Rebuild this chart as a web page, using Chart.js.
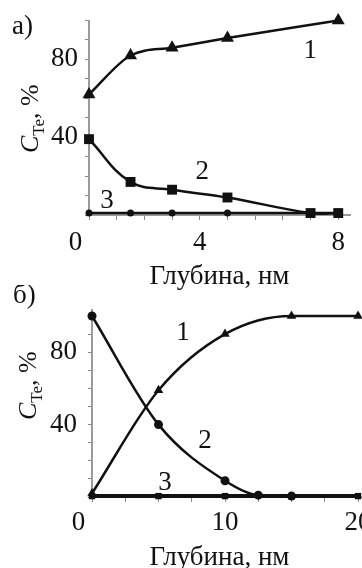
<!DOCTYPE html>
<html><head><meta charset="utf-8">
<script src="https://cdn.jsdelivr.net/npm/chart.js@4.4.1/dist/chart.umd.min.js"></script>
<style>
html,body{margin:0;padding:0;width:362px;height:568px;overflow:hidden;background:#fff;}
#wa{position:absolute;left:0;top:0;width:362px;height:290px;}
#wb{position:absolute;left:0;top:285px;width:380px;height:290px;}
canvas{display:block;}
</style></head><body>
<div id="wa"><canvas id="ca" width="362" height="290"></canvas></div>
<div id="wb"><canvas id="cb" width="380" height="290"></canvas></div>
<script>
// ---------- Panel а) ----------
const depthA   = [0.8, 2, 3.2, 4.8, 8];
const curve1A  = [62, 82, 86, 91, 100];
const depth2A  = [0.8, 2, 3.2, 4.8, 7.2, 8];
const curve2A  = [39, 17, 13, 9, 1, 1];
const curve3A  = [1, 1, 1, 1, 1];
const xTicksA  = [0.8, 1.6, 2.4, 3.2, 4, 4.8, 5.6, 6.4, 7.2, 8];
const xTickLabelsA = ['0', '', '', '', '4', '', '', '', '', '8'];

// ---------- Panel б) ----------
const depthB   = [0, 5, 10, 15, 20];
const curve1B  = [2, 59, 90, 100, 100];
const depth2B  = [0, 5, 10, 12.5, 15];
const curve2B  = [100, 40, 9, 1, 0.5];
const curve3B  = [0.5, 0.5, 0.5, 0.5, 0.5];
const xTicksB  = [0, 2.5, 5, 7.5, 10, 12.5, 15, 17.5, 20];
const xTickLabelsB = ['0', '', '', '', '10', '', '', '', '20'];

// shared y ticks
const yTicks = [0, 10, 20, 30, 40, 50, 60, 70, 80, 90, 100];
const yTickLabels = ['', '', '', '', '40', '', '', '', '80', '', ''];

const curveNames = ['1', '2', '3'];
const xTitle = 'Глубина, нм';

const FONT = '"Liberation Serif", "Times New Roman", serif';
const INK = '#111';

function ds(xs, ys, style, radius, width, mode) {
  return {
    data: xs.map((x, i) => ({x: x, y: ys[i]})),
    showLine: true, borderColor: INK, backgroundColor: INK, borderWidth: width,
    pointStyle: style, pointRadius: radius, pointHoverRadius: radius,
    pointBackgroundColor: INK, pointBorderColor: INK, pointBorderWidth: 0,
    cubicInterpolationMode: mode, tension: 0.4, clip: false
  };
}

const textPlugin = {
  id: 'txt',
  afterDraw(chart, args, o) {
    const ctx = chart.ctx, xs = chart.scales.x, ys = chart.scales.y;
    ctx.save();
    ctx.fillStyle = INK;
    ctx.font = '27px ' + FONT;
    ctx.textAlign = 'center'; ctx.textBaseline = 'middle';
    curveNames.forEach((t, i) => ctx.fillText(t, xs.getPixelForValue(o.lx[i]), ys.getPixelForValue(o.ly[i])));
    ctx.textAlign = 'left'; ctx.textBaseline = 'alphabetic';
    ctx.fillText(o.panel, o.px, o.py);
    ctx.translate(o.tx, o.ty); ctx.rotate(-Math.PI / 2);
    ctx.font = 'italic 26px ' + FONT; ctx.fillText('C', 0, 0);
    let w = ctx.measureText('C').width;
    ctx.font = '17px ' + FONT; ctx.fillText('Te', w, 6);
    w += ctx.measureText('Te').width;
    ctx.font = '26px ' + FONT; ctx.fillText(', %', w, 0);
    ctx.restore();
  }
};

function makeChart(id, cfg) {
  return new Chart(document.getElementById(id), {
    type: 'scatter',
    data: {datasets: cfg.datasets},
    options: {
      responsive: false, animation: false, devicePixelRatio: 1,
      layout: {padding: cfg.padding},
      plugins: {legend: {display: false}, tooltip: {enabled: false}, txt: cfg.txt},
      scales: {
        x: {
          type: 'linear', min: cfg.xmin, max: cfg.xmax,
          afterBuildTicks: s => { s.ticks = cfg.xTicks.map(v => ({value: v})); },
          afterFit: s => { s.height = cfg.xh; },
          ticks: {autoSkip: false, maxRotation: 0, padding: cfg.xpad, color: INK,
                  font: {family: FONT, size: 27, lineHeight: 1},
                  callback: (v, i) => cfg.xLabels[i] === '0' ? '0    ' : cfg.xLabels[i]},
          grid: {drawOnChartArea: false, drawTicks: true, tickLength: 5, color: '#8a8a8a', tickColor: '#8a8a8a'},
          border: {display: true, color: '#9a9a9a', width: 2},
          title: {display: true, text: cfg.xTitle, color: INK,
                  font: {family: FONT, size: 27, lineHeight: 1}, padding: {top: 0, bottom: cfg.tpad}}
        },
        y: {
          type: 'linear', min: 0, max: cfg.ymax,
          afterBuildTicks: s => { s.ticks = yTicks.map(v => ({value: v})); },
          afterFit: s => { s.width = cfg.yw; },
          ticks: {autoSkip: false, padding: cfg.ypad, color: INK,
                  font: {family: FONT, size: 27, lineHeight: 1},
                  callback: (v, i) => yTickLabels[i]},
          grid: {drawOnChartArea: false, drawTicks: true, tickLength: 4, color: '#8a8a8a', tickColor: '#8a8a8a'},
          border: {display: true, color: '#9a9a9a', width: 2}
        }
      }
    },
    plugins: [textPlugin]
  });
}

makeChart('ca', {
  datasets: [
    ds(depthA, curve1A, 'triangle', 7.5, 2.5, 'monotone'),
    ds(depth2A, curve2A, 'rect', 7, 2.5, 'default'),
    ds(depthA, curve3A, 'circle', 3.5, 2.5, 'default')
  ],
  padding: {top: 14, right: 12, left: 0, bottom: 0},
  xmin: 0.8, xmax: 8.34, ymax: 100, xTicks: xTicksA, xLabels: xTickLabelsA,
  xh: 75, yw: 89, xpad: 9.5, ypad: 7, tpad: 0, xTitle: xTitle,
  txt: {lx: [7.19, 4.07, 1.32], ly: [84.6, 22.4, 7.5], panel: 'а)', px: 12, py: 34, tx: 38, ty: 153}
});

makeChart('cb', {
  datasets: [
    ds(depthB, curve1B, 'triangle', 5.5, 2.5, 'monotone'),
    ds(depth2B, curve2B, 'circle', 4.5, 2.5, 'monotone'),
    ds(depthB, curve3B, 'rect', 4.5, 4, 'monotone')
  ],
  padding: {top: 13, right: 6, left: 0, bottom: 0},
  xmin: 0, xmax: 21.2, ymax: 103.6, xTicks: xTicksB, xLabels: xTickLabelsB,
  xh: 78, yw: 92, xpad: 7.5, ypad: 11, tpad: 3.5, xTitle: xTitle + '    ',
  txt: {lx: [6.84, 8.5, 5.49], ly: [90.6, 31.25, 7.8], panel: 'б)', px: 13, py: 18, tx: 36, ty: 135}
});
</script>
</body></html>
